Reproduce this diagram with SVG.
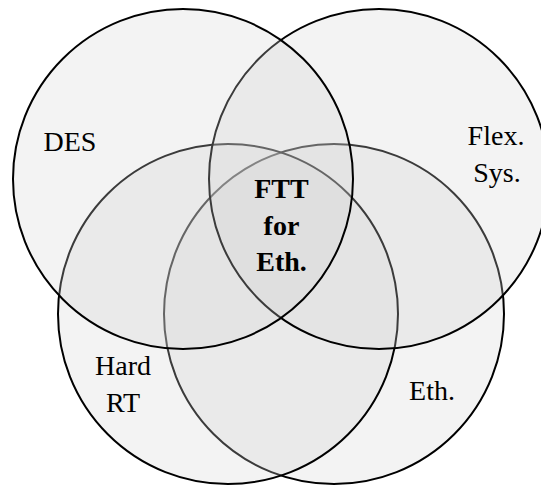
<svg xmlns="http://www.w3.org/2000/svg" width="541" height="486" viewBox="0 0 541 486">
<style>
.set{fill:#d5d5d5;fill-opacity:0.28;stroke:#000;stroke-width:2}
text{font-family:'Liberation Serif','Times New Roman',Times,serif;font-size:28px;fill:#000;text-anchor:middle}
.core{font-weight:bold}
</style>
<rect width="541" height="486" fill="#fff"/>
<g id="eth">
<circle class="set" cx="334" cy="314" r="170"/>
<text x="432" y="400">Eth.</text>
</g>
<g id="hard-rt">
<circle class="set" cx="228" cy="314" r="170"/>
<text x="123" y="375">Hard</text>
<text x="123" y="412">RT</text>
</g>
<g id="flex-sys">
<circle class="set" cx="379" cy="179" r="170"/>
<text x="496" y="145">Flex.</text>
<text x="497" y="182">Sys.</text>
</g>
<g id="des">
<circle class="set" cx="183" cy="179" r="170"/>
<text x="70" y="151">DES</text>
</g>
<g id="ftt-for-eth">
<text class="core" x="281.5" y="198">FTT</text>
<text class="core" x="281.5" y="235">for</text>
<text class="core" x="281.5" y="271">Eth.</text>
</g>
<g id="connectors"></g>
</svg>
